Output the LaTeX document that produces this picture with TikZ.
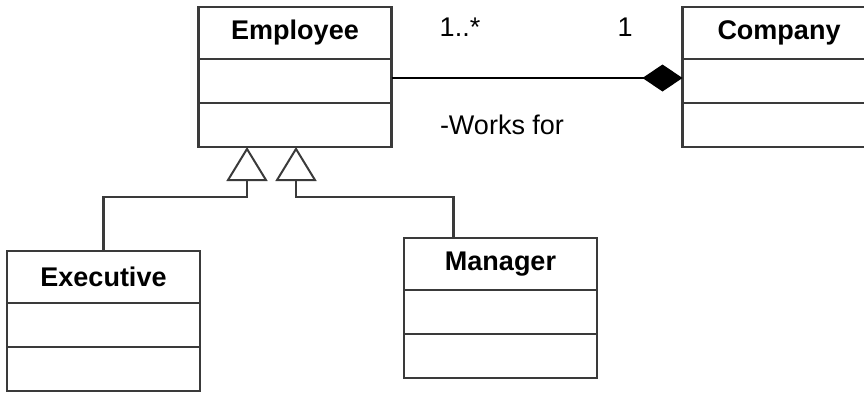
\documentclass[tikz,border=0pt]{standalone}
\usepackage{fontspec}
\setmainfont{Liberation Sans}
\usetikzlibrary{arrows.meta}
\definecolor{umlline}{HTML}{3A3A3A}

\begin{document}
\begin{tikzpicture}[x=1pt, y=-1pt,
    classhead/.style={draw=umlline, line width=2.4pt, outer sep=0pt, inner sep=0pt,
      minimum width=193pt, minimum height=52pt, font=\fontsize{27}{32}\selectfont\bfseries},
    classpart/.style={draw=umlline, line width=2.4pt, outer sep=0pt, inner sep=0pt,
      minimum width=193pt, minimum height=44pt, anchor=north},
    inherit/.style={draw=umlline, line width=2.4pt,
      -{Triangle[open, length=34pt, width=41pt, line width=2pt]}},
    compose/.style={draw=black, line width=2pt, -{Diamond[length=40pt, width=27pt]}},
    rolelabel/.style={inner sep=0pt, font=\fontsize{27}{32}\selectfont}]
  \clip (0,0) rectangle (864,397);
  % draw class boxes
  \node[classhead] (emphead) at (295,33) {Employee};
  \node[classpart] (empattr) at (emphead.south) {};
  \node[classpart] (empops) at (empattr.south) {};
  \node[classhead] (comhead) at (779,33) {Company};
  \node[classpart] (comattr) at (comhead.south) {};
  \node[classpart] (comops) at (comattr.south) {};
  \node[classhead] (exehead) at (103.5,277) {Executive};
  \node[classpart] (exeattr) at (exehead.south) {};
  \node[classpart] (exeops) at (exeattr.south) {};
  \node[classhead] (mgrhead) at (500.5,264) {Manager};
  \node[classpart] (mgrattr) at (mgrhead.south) {};
  \node[classpart] (mgrops) at (mgrattr.south) {};
  \coordinate (kinkE) at (247,197);
  \coordinate (kinkM) at (296,197);
  \draw[inherit] (exehead.north) |- (kinkE) -- (kinkE |- empops.south);
  \draw[inherit] ([xshift=-47pt]mgrhead.north) |- (kinkM) -- (kinkM |- empops.south);
  \draw[compose] ([yshift=3pt]empattr.east) -- ([yshift=3pt]comattr.west);
  \node[rolelabel] (multemp) at (460,27) {1..*};
  \node[rolelabel] (multcom) at (625,27) {1};
  \node[rolelabel] (rolename) at (502,125) {-Works for};
\end{tikzpicture}
\end{document}
